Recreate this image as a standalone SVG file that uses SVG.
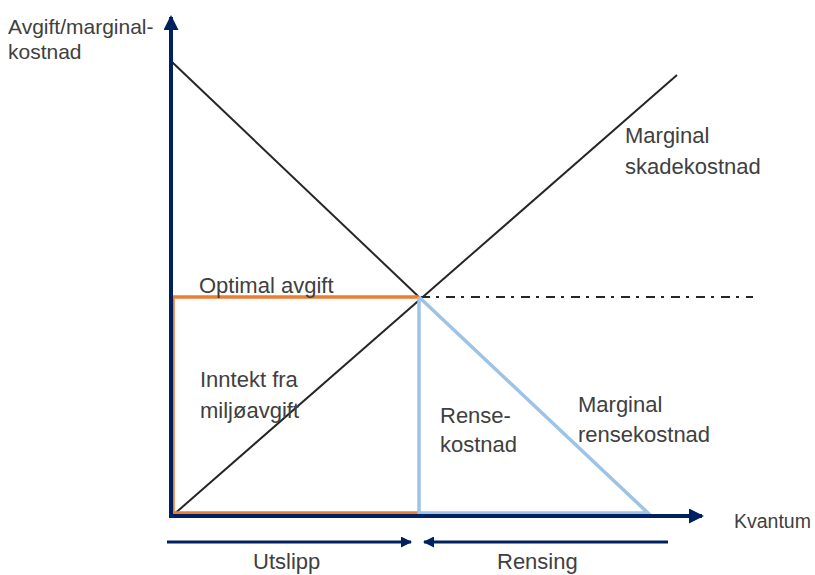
<svg xmlns="http://www.w3.org/2000/svg" width="815" height="575" viewBox="0 0 815 575">
<defs>
<style>
.t{font-family:"Liberation Sans",Arial,sans-serif;font-size:22px;fill:#404040}
.s{font-size:21px}
.k{font-size:19.5px}
.ax{stroke:#002060;stroke-width:4;fill:none}
.bk{stroke:#262626;stroke-width:2;fill:none}
.or{stroke:#ED7D31;stroke-width:3.5;fill:none}
.lb{stroke:#9DC3E6;stroke-width:3.5;fill:none}
.dd{stroke:#262626;stroke-width:2;fill:none;stroke-dasharray:9 6 3 7}
.ar{stroke:#002060;stroke-width:3;fill:none}
</style>
<marker id="big" viewBox="0 0 15 15" refX="13" refY="7.5" markerWidth="15" markerHeight="15" markerUnits="userSpaceOnUse" orient="auto">
<path d="M0,0 L15,7.5 L0,15 Z" fill="#002060"/>
</marker>
<marker id="sm" viewBox="0 0 11 11" refX="10" refY="5.5" markerWidth="11" markerHeight="11" markerUnits="userSpaceOnUse" orient="auto">
<path d="M0,0 L11,5.5 L0,11 Z" fill="#002060"/>
</marker>
</defs>
<rect width="815" height="575" fill="#ffffff"/>
<g id="connectors">
<line class="bk" x1="172" y1="62" x2="419" y2="297"/>
<line class="bk" x1="172" y1="516" x2="677" y2="75"/>
<line class="dd" x1="421" y1="297" x2="753" y2="297"/>
<polyline class="or" points="419,297 173,297 173,513 419,513"/>
<polyline class="lb" points="419,297 419,513 648,513 419,297"/>
<line class="ax" x1="171" y1="518" x2="171" y2="17" marker-end="url(#big)"/>
<line class="ax" x1="169" y1="516" x2="702" y2="516" marker-end="url(#big)"/>
<line class="ar" x1="167" y1="542" x2="411" y2="542" marker-end="url(#sm)"/>
<line class="ar" x1="668" y1="542" x2="424" y2="542" marker-end="url(#sm)"/>
</g>
<g id="label-yaxis"><text class="t s" x="8" y="34">Avgift/marginal-</text><text class="t s" x="8" y="59">kostnad</text></g>
<g id="label-skade"><text class="t" x="625" y="143">Marginal</text><text class="t" x="625" y="174">skadekostnad</text></g>
<g id="label-optimal"><text class="t" x="199" y="293">Optimal avgift</text></g>
<g id="label-inntekt"><text class="t" x="200" y="387">Inntekt fra</text><text class="t" x="200" y="418">miljøavgift</text></g>
<g id="label-rense"><text class="t" x="440" y="423">Rense-</text><text class="t" x="440" y="452">kostnad</text></g>
<g id="label-rensekost"><text class="t" x="578" y="412">Marginal</text><text class="t" x="578" y="442">rensekostnad</text></g>
<g id="label-kvantum"><text class="t k" x="734" y="528">Kvantum</text></g>
<g id="label-utslipp"><text class="t" x="253" y="569">Utslipp</text></g>
<g id="label-rensing"><text class="t" x="497" y="569">Rensing</text></g>
</svg>
